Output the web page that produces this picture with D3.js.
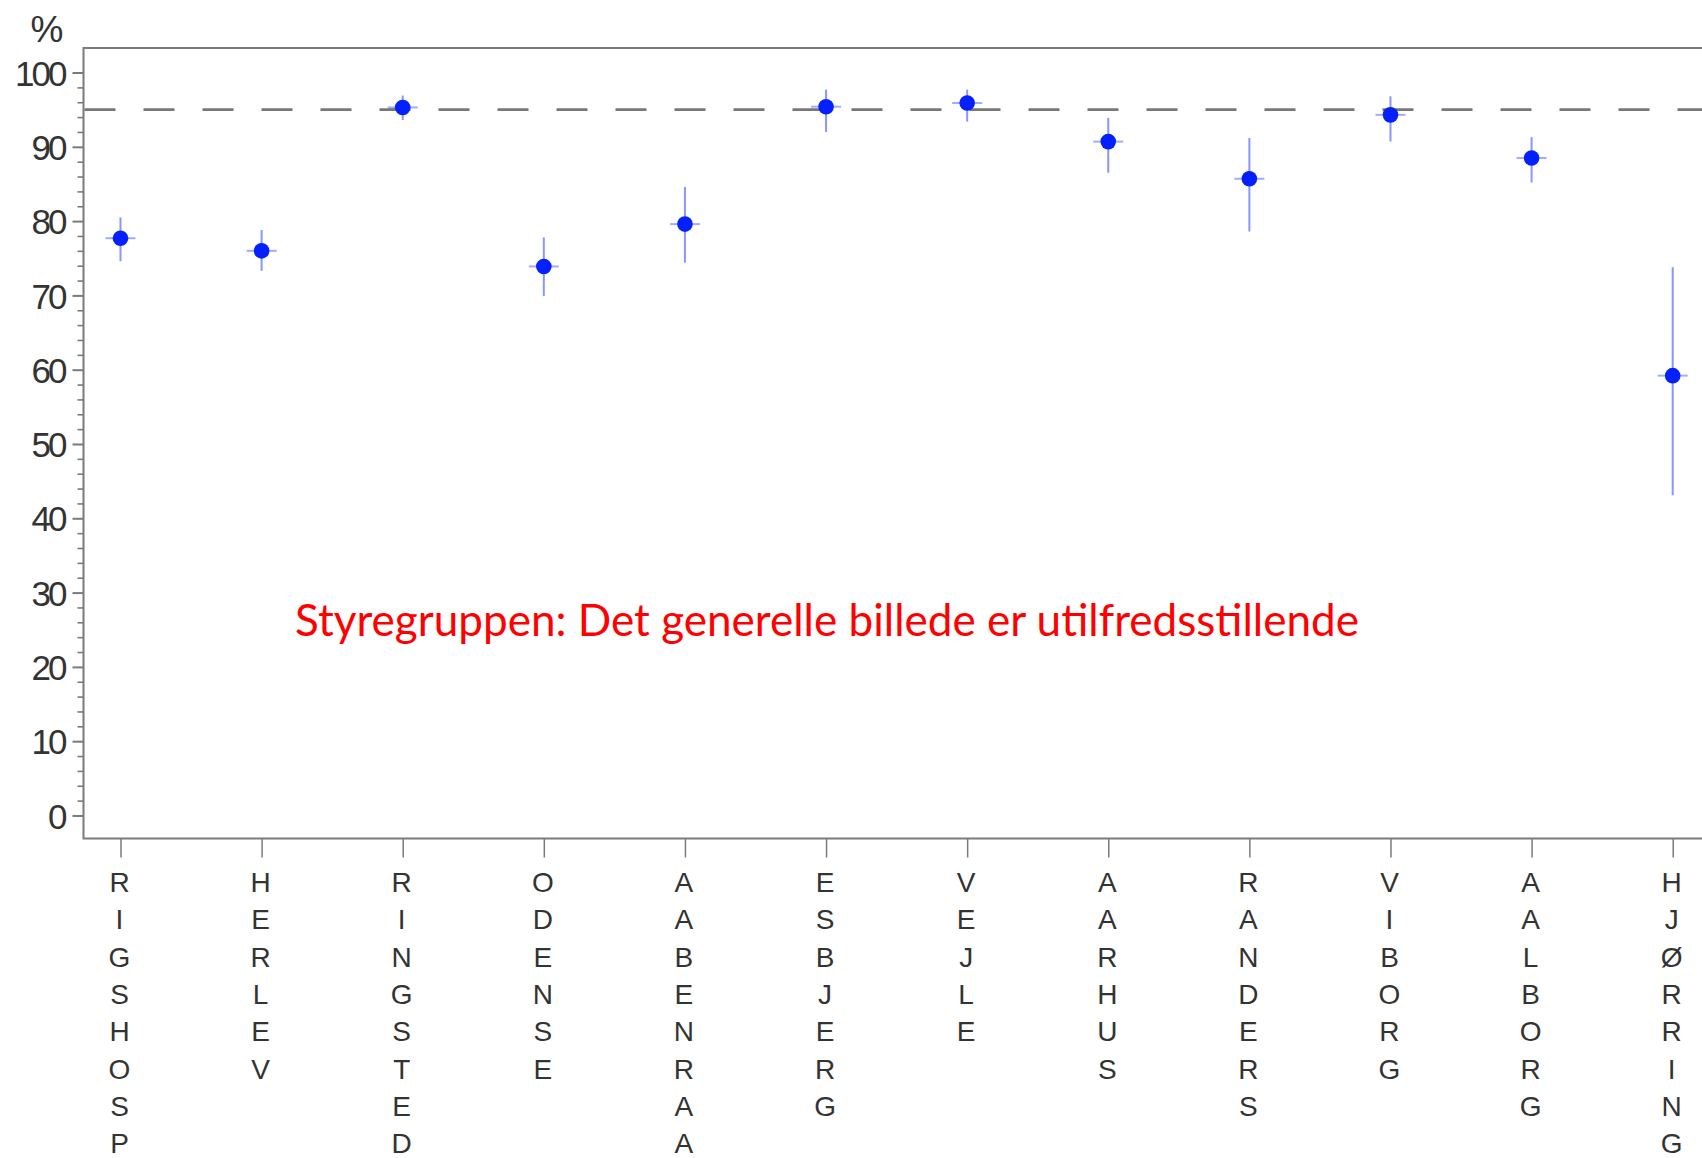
<!DOCTYPE html>
<html>
<head>
<meta charset="utf-8">
<script src="https://cdn.jsdelivr.net/npm/d3@7"></script>
<style>
  html, body { margin: 0; padding: 0; background: #fff; }
  svg { display: block; }
</style>
</head>
<body>
<svg id="chart" width="1702" height="1158"></svg>
<script>
// ---- data ----
const categories = ["RIGSHOSP", "HERLEV", "RINGSTED", "ODENSE", "AABENRAA", "ESBJERG",
                    "VEJLE", "AARHUS", "RANDERS", "VIBORG", "AALBORG", "HJØRRING"];
const estimates = [77.7, 76.0, 95.3, 73.9, 79.6, 95.4, 95.9, 90.7, 85.7, 94.3, 88.5, 59.2];
const lowerCI   = [74.6, 73.3, 93.6, 69.9, 74.4, 92.0, 93.4, 86.5, 78.6, 90.7, 85.2, 43.1];
const upperCI   = [80.5, 78.8, 96.9, 77.8, 84.6, 97.7, 97.7, 93.9, 91.2, 96.8, 91.3, 73.8];
const targetLevel = 95;
const yTickValues = [0, 10, 20, 30, 40, 50, 60, 70, 80, 90, 100];
const yMinorTickValues = d3.range(0, 101, 2);
const yAxisLabel = "%";
const annotationText = "Styregruppen: Det generelle billede er utilfredsstillende";

// ---- layout ----
const svg = d3.select("#chart");
const frameLeft = 83.5, frameRight = 1712, frameTop = 48, frameBottom = 838.5;

const y = d3.scaleLinear().domain([-3.1, 103.3]).range([frameBottom, frameTop]);
const x = d3.scalePoint().domain(categories).range([120.5, 1672.7]);

const axisGray = "#7a7a7a";
const textColor = "#333333";
const dotColor = "#0520ff";
const barColor = "rgba(20,45,255,0.5)";

// frame
svg.append("rect")
  .attr("x", frameLeft).attr("y", frameTop)
  .attr("width", frameRight - frameLeft).attr("height", frameBottom - frameTop)
  .attr("fill", "none").attr("stroke", axisGray).attr("stroke-width", 2);

// y axis minor ticks
const yMinor = d3.axisLeft(y).tickValues(yMinorTickValues.filter(v => v % 10 !== 0))
  .tickSize(6).tickFormat("");
const gMinor = svg.append("g").attr("transform", `translate(${frameLeft},0)`).call(yMinor);
gMinor.select(".domain").remove();
gMinor.selectAll(".tick line").attr("stroke", axisGray).attr("stroke-width", 1.6);

// y axis major ticks
const yAxis = d3.axisLeft(y).tickValues(yTickValues).tickSize(11).tickPadding(10).tickFormat(d3.format("d"));
const gY = svg.append("g").attr("transform", `translate(${frameLeft},0)`).call(yAxis);
gY.select(".domain").remove();
gY.selectAll(".tick line").attr("stroke", axisGray).attr("stroke-width", 2);
gY.selectAll(".tick text")
  .attr("fill", textColor)
  .style("font-family", "'Liberation Sans', Arial, sans-serif")
  .style("font-size", "35px")
  .style("letter-spacing", "-3px")
  .attr("x", -19)
  .attr("dy", "0.36em");

// % label
svg.append("text")
  .attr("x", 47).attr("y", 42)
  .attr("text-anchor", "middle")
  .attr("fill", textColor)
  .style("font-family", "'Liberation Sans', Arial, sans-serif")
  .style("font-size", "37px")
  .text(yAxisLabel);

// x axis ticks
const xAxis = d3.axisBottom(x).tickSize(19).tickFormat("");
const gX = svg.append("g").attr("transform", `translate(0,${frameBottom})`).call(xAxis);
gX.select(".domain").remove();
gX.selectAll(".tick line").attr("stroke", axisGray).attr("stroke-width", 1.5);

// x labels: stacked vertical letters
const labelG = svg.append("g");
categories.forEach(c => {
  const t = labelG.append("text")
    .attr("text-anchor", "middle")
    .attr("fill", textColor)
    .style("font-family", "'Liberation Sans', Arial, sans-serif")
    .style("font-size", "28px");
  Array.from(c).forEach((ch, i) => {
    t.append("tspan")
      .attr("x", x(c) - 1)
      .attr("y", 892 + i * 37.3)
      .text(ch);
  });
});

// target dashed line
svg.append("line")
  .attr("x1", frameLeft + 1).attr("x2", frameRight)
  .attr("y1", y(targetLevel)).attr("y2", y(targetLevel))
  .attr("stroke", "#777").attr("stroke-width", 2.6)
  .attr("stroke-dasharray", "31,28");

// points with CI
const rows = categories.map((c, i) => ({ c, est: estimates[i], lo: lowerCI[i], hi: upperCI[i] }));
const pts = svg.append("g").selectAll("g").data(rows).join("g");
pts.append("line")
  .attr("x1", d => x(d.c)).attr("x2", d => x(d.c))
  .attr("y1", d => y(d.hi)).attr("y2", d => y(d.lo))
  .attr("stroke", barColor).attr("stroke-width", 2);
pts.append("line")
  .attr("x1", d => x(d.c) - 15).attr("x2", d => x(d.c) + 15)
  .attr("y1", d => y(d.est)).attr("y2", d => y(d.est))
  .attr("stroke", "rgba(20,45,255,0.4)").attr("stroke-width", 2);
pts.append("circle")
  .attr("cx", d => x(d.c)).attr("cy", d => y(d.est))
  .attr("r", 7.8)
  .attr("fill", dotColor);

// annotation
const ann = svg.append("text")
  .attr("x", 295).attr("y", 636)
  .attr("fill", "#ff0000")
  .style("font-family", "Lato, 'Open Sans', sans-serif")
  .style("font-size", "46px")
  .text(annotationText);
const targetW = 1064;
const w = ann.node().getComputedTextLength();
ann.style("font-size", (46 * targetW / w).toFixed(2) + "px");
</script>
</body>
</html>
